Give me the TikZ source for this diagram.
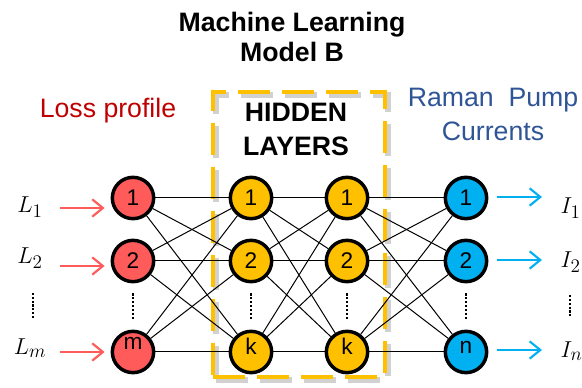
\documentclass[tikz,border=0pt]{standalone}
\usepackage{fontspec}
\setmainfont{Liberation Sans}
\usepackage{xcolor}
\usepackage{tikz}
\usetikzlibrary{arrows.meta,positioning,calc}

\definecolor{lossred}{HTML}{C00000}
\definecolor{pumpblue}{HTML}{2F5597}
\definecolor{inred}{HTML}{FF5B5B}
\definecolor{hidyellow}{HTML}{FFC000}
\definecolor{outblue}{HTML}{00B0F0}

\begin{document}
\begin{tikzpicture}[
  x=0.75pt, y=-0.75pt,
  neuron/.style={circle, draw, line width=2.6pt, minimum size=31pt,
                 inner sep=0pt, text height=12pt, text depth=0pt,
                 font=\fontsize{17}{17}\selectfont},
  inunit/.style={neuron, fill=inred},
  hidunit/.style={neuron, fill=hidyellow},
  outunit/.style={neuron, fill=outblue},
  hiddenbox/.style={draw=hidyellow, line width=3pt, dash pattern=on 24pt off 9pt,
                    minimum width=129pt, minimum height=213.75pt, inner sep=0pt,
                    preaction={draw=black!18, line width=4.5pt,
                               transform canvas={xshift=2.5pt, yshift=-2.5pt}}},
  heading/.style={align=center, font=\fontsize{20}{25.5}\selectfont},
  var/.style={font=\fontsize{19}{19}\selectfont},
  link/.style={line width=0.75pt},
  arrin/.style={-{Straight Barb[length=8pt, width=13pt]}, line width=1.6pt, draw=inred},
  arrout/.style={-{Straight Barb[length=8pt, width=13pt]}, line width=1.6pt, draw=outblue},
  vdots/.style={line width=1.6pt, dash pattern=on 1.6pt off 1.3pt}
]
\useasboundingbox (0,0) rectangle (582,388);

% titles
\node[heading, font=\fontsize{20}{22.5}\selectfont\bfseries] (title) at (292,37)
    {Machine Learning\\Model B};
\node[heading, text=lossred] (losstxt) at (108,110.5) {Loss profile};
\node[heading, text=pumpblue] (pumptxt) at (493,114.75) {Raman~~Pump\\Currents};

% hidden layer frame
\node[hiddenbox] (hbox) at (299,234.5) {};
\node[heading, font=\fontsize{20}{25.5}\selectfont\bfseries] (htxt) at (296,129)
    {HIDDEN\\LAYERS};

% units
\node[inunit] (in1) at (133,198) {1};
\node[inunit] (in2) at (133,261) {2};
\node[inunit] (in3) at (133,352) {\raisebox{8pt}{m}};
\node[hidunit] (ha1) at (251,198) {1};
\node[hidunit] (ha2) at (251,261) {2};
\node[hidunit] (ha3) at (251,352) {\raisebox{4pt}{k}};
\node[hidunit] (hb1) at (347,198) {1};
\node[hidunit] (hb2) at (347,261) {2};
\node[hidunit] (hb3) at (347,352) {\raisebox{4pt}{k}};
\node[outunit] (out1) at (466,198) {1};
\node[outunit] (out2) at (466,261) {2};
\node[outunit] (out3) at (466,352) {\raisebox{5pt}{n}};

\foreach \s/\t in {in/ha, ha/hb, hb/out}
  \foreach \i in {1,2,3}
    \foreach \j in {1,2,3}
      \draw[link] (\s\i) -- (\t\j);

\foreach \c in {in, ha, hb, out}
  \draw[vdots] ($(\c2.south)+(0,10)$) -- ($(\c3.north)+(0,-11)$);

% inputs
\node[var] (l1) at (30,207) {$L_1$};
\node[var] (l2) at (30,258) {$L_2$};
\node[var] (lm) at (30,348) {$L_m$};
\draw[vdots] ($(l2.south)+(3,20)$) -- ($(lm.north)+(3,-15)$);

\coordinate (s1) at (60,208);
\coordinate (s2) at (60,266);
\coordinate (s3) at (60,352);
\draw[arrin] (s1) -- ($(s1 -| in1.west)+(-6,0)$);
\draw[arrin] (s2) -- ($(s2 -| in2.west)+(-6,0)$);
\draw[arrin] (s3) -- ($(s3 -| in3.west)+(-6,0)$);

% outputs
\node[var, anchor=west] (r1) at (556,208) {$I_1$};
\node[var, anchor=west] (r2) at (556,262) {$I_2$};
\node[var, anchor=west] (rn) at (556,351) {$I_n$};
\draw[vdots] (570,295) -- (570,318);

\coordinate (t1) at (542,197);
\coordinate (t2) at (542,260);
\coordinate (t3) at (542,350);
\draw[arrout] ($(t1 -| out1.east)+(9,0)$) -- (t1);
\draw[arrout] ($(t2 -| out2.east)+(9,0)$) -- (t2);
\draw[arrout] ($(t3 -| out3.east)+(9,0)$) -- (t3);
\end{tikzpicture}
\end{document}
